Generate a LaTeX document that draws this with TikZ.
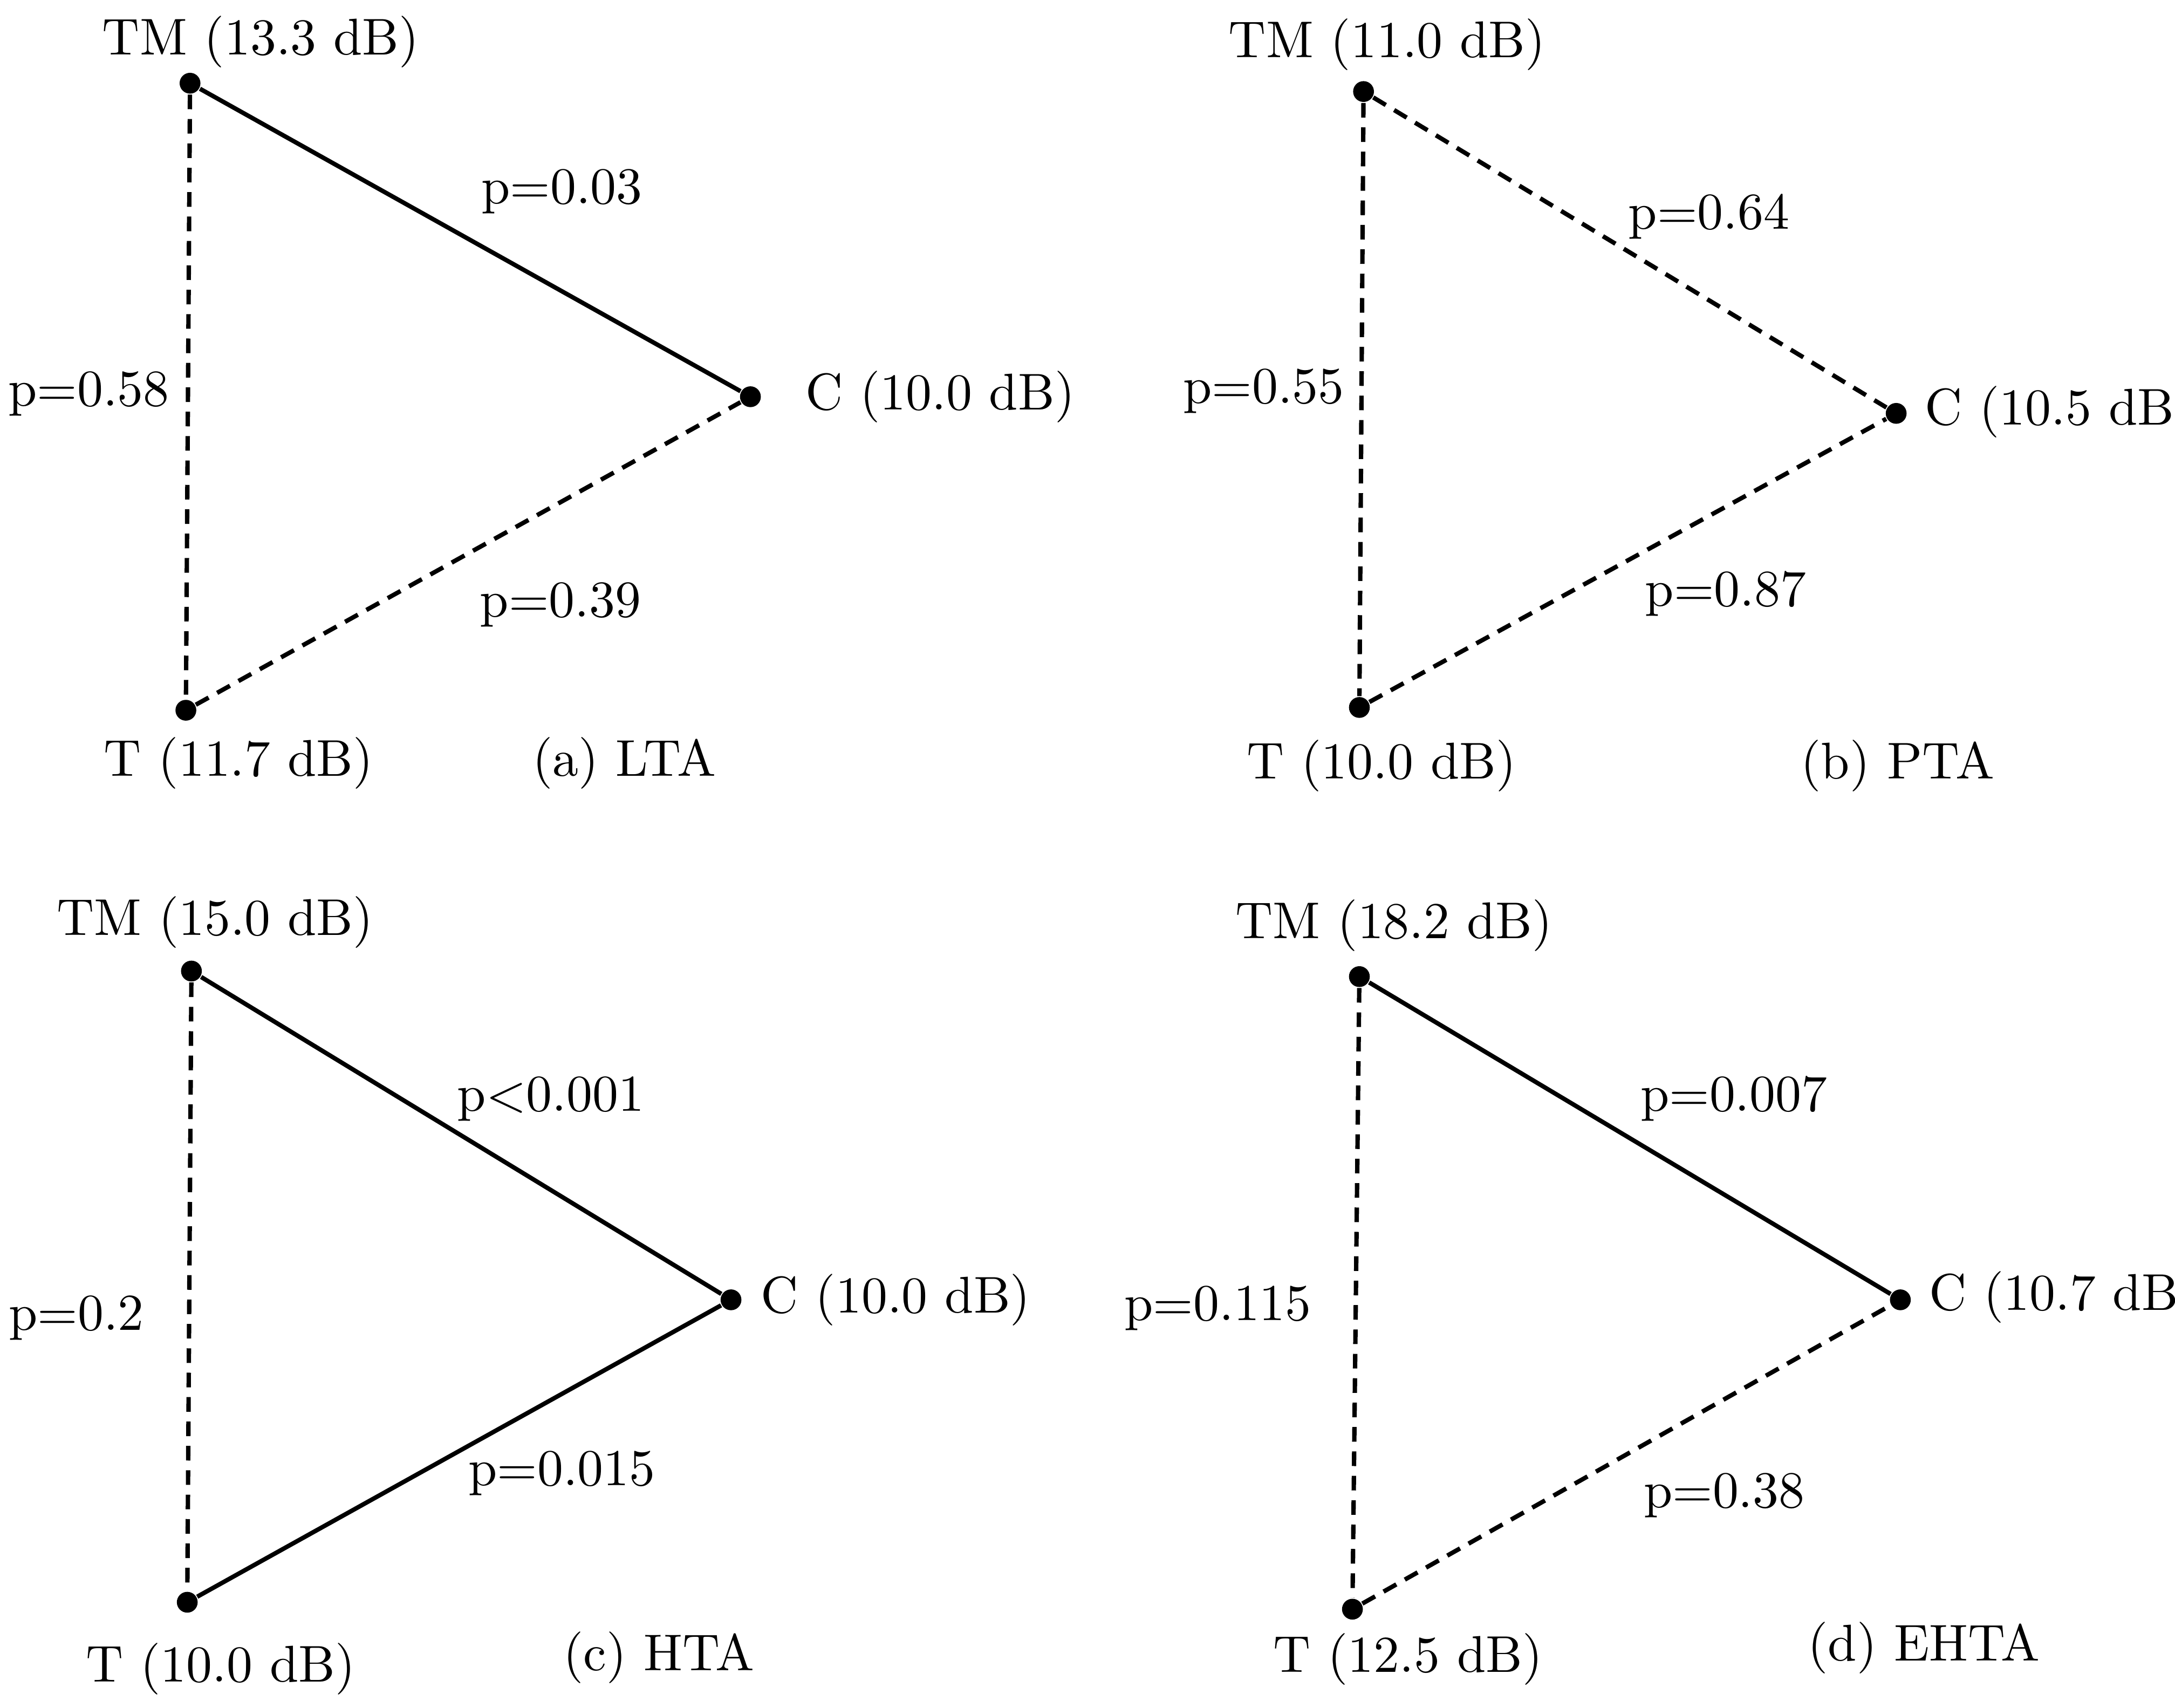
\documentclass[tikz,border=0pt]{standalone}
\begin{document}
\begin{tikzpicture}[x=0.01cm,y=-0.01cm,
  dot/.style={circle,fill=black,inner sep=0pt,minimum size=0.15cm},
  lbl/.style={font=\fontsize{10.6}{12}\selectfont,inner sep=0pt},
  sline/.style={line width=0.9pt},
  dline/.style={line width=0.9pt,dash pattern=on 3pt off 2pt}]
\useasboundingbox (0,0) rectangle (1568,1231);
% (a)
\node[dot] (aTM) at (137,60) {};
\node[dot] (aC) at (541,286) {};
\node[dot] (aT) at (134,512) {};
\draw[sline] (aTM) -- (aC);
\draw[dline] (aTM) -- (aT);
\draw[dline] (aT) -- (aC);
\node[lbl] (aTMl) at (188,30) {TM (13.3 dB)};
\node[lbl,anchor=west] (aCl) at (580,286) {C (10.0 dB)};
\node[lbl] (aTl) at (172,550) {T (11.7 dB)};
\node[lbl] (acap) at (450,550) {(a) LTA};
\node[lbl] (ap1) at (405,138) {p=0.03};
\node[lbl] (ap2) at (64,284) {p=0.58};
\node[lbl] (ap3) at (404,436) {p=0.39};
% (b)
\node[dot] (bTM) at (983,66) {};
\node[dot] (bC) at (1367,298) {};
\node[dot] (bT) at (980,510) {};
\draw[dline] (bTM) -- (bC);
\draw[dline] (bTM) -- (bT);
\draw[dline] (bT) -- (bC);
\node[lbl] (bTMl) at (1000,32) {TM (11.0 dB)};
\node[lbl,anchor=west] (bCl) at (1387,297) {C (10.5 dB)};
\node[lbl] (bTl) at (996,552) {T (10.0 dB)};
\node[lbl] (bcap) at (1368,552) {(b) PTA};
\node[lbl] (bp1) at (1232,156) {p=0.64};
\node[lbl] (bp2) at (911,282) {p=0.55};
\node[lbl] (bp3) at (1244,428) {p=0.87};
% (c)
\node[dot] (cTM) at (138,700) {};
\node[dot] (cC) at (527,937) {};
\node[dot] (cT) at (135,1155) {};
\draw[sline] (cTM) -- (cC);
\draw[dline] (cTM) -- (cT);
\draw[sline] (cT) -- (cC);
\node[lbl] (cTMl) at (155,665) {TM (15.0 dB)};
\node[lbl,anchor=west] (cCl) at (548,937) {C (10.0 dB)};
\node[lbl] (cTl) at (159,1203) {T (10.0 dB)};
\node[lbl] (ccap) at (475,1195) {(c) HTA};
\node[lbl] (cp1) at (397,792) {p<0.001};
\node[lbl] (cp2) at (55,950) {p=0.2};
\node[lbl] (cp3) at (405,1062) {p=0.015};
% (d)
\node[dot] (dTM) at (980,704) {};
\node[dot] (dC) at (1370,937) {};
\node[dot] (dT) at (975,1160) {};
\draw[sline] (dTM) -- (dC);
\draw[dline] (dTM) -- (dT);
\draw[dline] (dT) -- (dC);
\node[lbl] (dTMl) at (1005,667) {TM (18.2 dB)};
\node[lbl,anchor=west] (dCl) at (1390,935) {C (10.7 dB)};
\node[lbl] (dTl) at (1015,1196) {T (12.5 dB)};
\node[lbl] (dcap) at (1387,1188) {(d) EHTA};
\node[lbl] (dp1) at (1250,792) {p=0.007};
\node[lbl] (dp2) at (878,943) {p=0.115};
\node[lbl] (dp3) at (1243,1078) {p=0.38};
\end{tikzpicture}
\end{document}
